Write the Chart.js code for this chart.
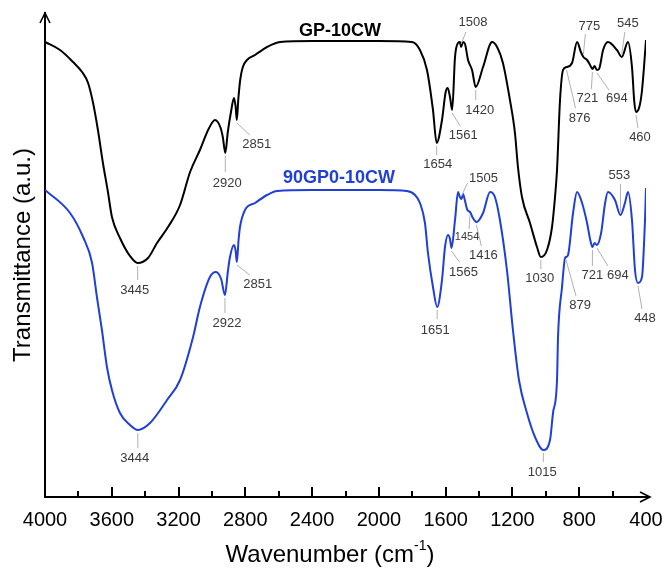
<!DOCTYPE html>
<html>
<head>
<meta charset="utf-8">
<script src="https://cdn.jsdelivr.net/npm/chart.js@4.4.1/dist/chart.umd.min.js"></script>
<style>
  body { margin: 0; background: #fff; }
  canvas { display: block; }
</style>
</head>
<body>
<canvas id="ftir" width="667" height="569"></canvas>
<script>
// GP-10CW spectrum (wavenumber cm-1, transmittance a.u.)
const gpWavenumber = [4000, 3910, 3832, 3778, 3742, 3712, 3683, 3653, 3623, 3599, 3551, 3491, 3445, 3383, 3329, 3263, 3191, 3131, 3072, 3020, 2982,
    2950, 2935, 2920, 2905, 2886, 2868, 2858, 2851, 2842, 2830, 2815, 2790, 2742, 2670, 2592, 2400, 2000, 1802, 1754, 1712,
    1676, 1654, 1622, 1600, 1588, 1574, 1561, 1544, 1526, 1514, 1508, 1496, 1484, 1466, 1442, 1420, 1376, 1322, 1292, 1257,
    1215, 1185, 1167, 1143, 1095, 1053, 1030, 993, 963, 945, 933, 915, 897, 876, 843, 813, 790, 775, 753, 735,
    721, 708, 694, 681, 657, 628, 574, 545, 508, 484, 470, 460, 440, 425, 412, 400];
const gpTransmittance = [455, 447, 435, 425, 414, 394, 367, 334, 305, 280, 259, 241, 234, 239, 254, 270, 292, 325, 347, 368, 377,
    370, 360, 344, 365, 385, 399, 390, 377, 398, 418, 430, 437, 442, 450, 455, 456, 456, 455, 447, 427,
    387, 354, 377, 405, 409, 400, 387, 440, 454, 455, 450, 455, 453, 437, 427, 410, 430, 455, 450, 434,
    397, 364, 330, 300, 274, 250, 240, 247, 270, 300, 327, 397, 427, 430, 434, 455, 445, 440, 437, 432,
    428, 431, 427, 428, 447, 455, 447, 440, 455, 430, 395, 385, 390, 405, 430, 457];

// 90GP0-10CW spectrum
const cwWavenumber = [4000, 3850, 3772, 3718, 3689, 3659, 3629, 3599, 3551, 3491, 3444, 3371, 3269, 3191, 3113, 3072, 3012, 2976, 2945, 2922, 2905,
    2892, 2868, 2858, 2851, 2840, 2832, 2802, 2742, 2670, 2610, 2400, 2000, 1832, 1784, 1754, 1724, 1706, 1676, 1651, 1622,
    1604, 1586, 1574, 1565, 1544, 1526, 1515, 1505, 1496, 1484, 1470, 1454, 1440, 1416, 1376, 1334, 1305, 1275, 1233, 1197,
    1161, 1113, 1065, 1015, 975, 957, 933, 927, 903, 885, 879, 867, 837, 813, 783, 753, 735, 721, 708, 694,
    669, 645, 628, 586, 553, 526, 508, 484, 466, 448, 424, 406, 400];
const cwTransmittance = [307, 284, 260, 234, 200, 167, 130, 107, 84, 72, 67, 74, 97, 117, 160, 190, 220, 225, 218, 202, 225,
    240, 252, 246, 235, 258, 270, 287, 294, 302, 306, 307, 307, 306, 302, 294, 274, 244, 210, 190, 217,
    250, 262, 258, 249, 277, 305, 300, 298, 303, 296, 287, 285, 280, 275, 284, 305, 300, 277, 227, 167,
    117, 84, 60, 47, 57, 84, 117, 160, 210, 239, 240, 242, 284, 305, 294, 274, 258, 250, 254, 252,
    264, 294, 305, 297, 282, 294, 305, 277, 227, 214, 220, 277, 309];

// labelled bands
const gpPeaks = [3445, 2920, 2851, 1654, 1561, 1508, 1420, 1030, 876, 775, 721, 694, 545, 460];
const cwPeaks = [3444, 2922, 2851, 1651, 1565, 1505, 1454, 1416, 1015, 879, 721, 694, 553, 448];

const xTicks = [4000, 3600, 3200, 2800, 2400, 2000, 1600, 1200, 800, 400];

// label offsets from the band point: [text dx, text dy, leader end dx, leader end dy]
const gpLabelPos = [[-3, 27, 0, 17], [2, 30, 0, 19], [20, 24, 13, 15], [1, 21, 0, 12], [11, 25, 8, 16], [12, -25, 5, -15],
    [4, 23, 0, 13], [-1, 21, 0, 12], [13, 51, 9, 41], [6, -31, 2, -23], [-5, 29, -1, 20], [20, 28, 12, 20], [6, -34, 3, -25], [4, 25, 2, 16]];
const cwLabelPos = [[-3, 28, 0, 18], [2, 28, 0, 18], [21, 22, 13, 13], [-2, 23, 0, 12], [12, 24, 8, 14], [22, -21, 6, -16],
    [-3, 25, -1, 17], [7, 33, 5, 24], [-1, 22, 0, 12], [14, 48, 10, 39], [0, 28, 0, 19], [21, 30, 11, 21], [-1, -40, 0, -31], [7, 35, 4, 26]];

function toPoints(xs, ys) {
    return xs.map((x, i) => ({ x: x, y: ys[i] }));
}

const FONT = "'Liberation Sans', Arial, sans-serif";

const decorations = {
    id: 'decorations',
    afterDraw(chart) {
        const ctx = chart.ctx;
        const xs = chart.scales.x;
        const ys = chart.scales.y;
        const area = chart.chartArea;
        ctx.save();

        // tick marks pointing into the plot
        ctx.strokeStyle = '#000';
        ctx.lineWidth = 2;
        for (let w = 3800; w >= 600; w -= 200) {
            const px = Math.round(xs.getPixelForValue(w));
            const len = (w % 400 === 0) ? 10 : 6;
            ctx.beginPath();
            ctx.moveTo(px, area.bottom);
            ctx.lineTo(px, area.bottom - len);
            ctx.stroke();
        }

        // axis arrows
        ctx.lineWidth = 1.6;
        const ax = area.right + 4;
        ctx.beginPath();
        ctx.moveTo(area.right, area.bottom);
        ctx.lineTo(ax, area.bottom);
        ctx.moveTo(ax - 10, area.bottom - 5);
        ctx.lineTo(ax, area.bottom);
        ctx.lineTo(ax - 10, area.bottom + 5);
        ctx.stroke();
        ctx.beginPath();
        ctx.moveTo(area.left - 5, area.top + 10);
        ctx.lineTo(area.left, area.top);
        ctx.lineTo(area.left + 5, area.top + 10);
        ctx.stroke();

        // band labels
        const drawPeaks = (peaks, layout, xsData, ysData) => {
            peaks.forEach((w, i) => {
                const v = ysData[xsData.indexOf(w)];
                const px = xs.getPixelForValue(w);
                const py = ys.getPixelForValue(v);
                const [tdx, tdy, ldx, ldy] = layout[i];
                const sy = tdy > 0 ? 3 : -3;
                ctx.strokeStyle = '#b0b0b0';
                ctx.lineWidth = 1;
                ctx.beginPath();
                ctx.moveTo(px, py + sy);
                ctx.lineTo(px + ldx, py + ldy);
                ctx.stroke();
                ctx.fillStyle = '#3a3a3a';
                ctx.font = (w === 1454 ? '11px ' : '13px ') + FONT;
                ctx.textAlign = 'center';
                ctx.textBaseline = 'middle';
                ctx.fillText(String(w), px + tdx, py + tdy);
            });
        };
        drawPeaks(gpPeaks, gpLabelPos, gpWavenumber, gpTransmittance);
        drawPeaks(cwPeaks, cwLabelPos, cwWavenumber, cwTransmittance);

        // series names
        ctx.textAlign = 'center';
        ctx.textBaseline = 'alphabetic';
        ctx.font = 'bold 18px ' + FONT;
        ctx.fillStyle = '#000';
        ctx.fillText('GP-10CW', 340, 36);
        ctx.fillStyle = '#1f3fd6';
        ctx.fillText('90GP0-10CW', 339, 183);

        // axis titles
        ctx.fillStyle = '#000';
        ctx.font = '24px ' + FONT;
        const main = 'Wavenumber (cm';
        const sup = '-1';
        const tail = ')';
        const wMain = ctx.measureText(main).width;
        const wTail = ctx.measureText(tail).width;
        ctx.font = '14px ' + FONT;
        const wSup = ctx.measureText(sup).width;
        let tx = 330 - (wMain + wSup + wTail) / 2;
        ctx.textAlign = 'left';
        ctx.font = '24px ' + FONT;
        ctx.fillText(main, tx, 562);
        ctx.font = '14px ' + FONT;
        ctx.fillText(sup, tx + wMain, 550);
        ctx.font = '24px ' + FONT;
        ctx.fillText(tail, tx + wMain + wSup, 562);

        ctx.translate(23, 255);
        ctx.rotate(-Math.PI / 2);
        ctx.textAlign = 'center';
        ctx.textBaseline = 'middle';
        ctx.fillText('Transmittance (a.u.)', 0, 0);
        ctx.restore();
    }
};

new Chart(document.getElementById('ftir'), {
    type: 'line',
    data: {
        datasets: [{
            label: 'GP-10CW',
            data: toPoints(gpWavenumber, gpTransmittance),
            borderColor: '#000',
            borderWidth: 2,
            pointRadius: 0,
            cubicInterpolationMode: 'monotone'
        }, {
            label: '90GP0-10CW',
            data: toPoints(cwWavenumber, cwTransmittance),
            borderColor: '#1f3fd6',
            borderWidth: 2,
            pointRadius: 0,
            cubicInterpolationMode: 'monotone'
        }]
    },
    options: {
        responsive: false,
        animation: false,
        layout: { padding: { left: 0, right: 21, top: 13, bottom: 0 } },
        plugins: { legend: { display: false }, tooltip: { enabled: false } },
        scales: {
            x: {
                type: 'linear',
                reverse: true,
                min: 400,
                max: 4000,
                afterFit: (s) => { s.height = 72; },
                afterBuildTicks: (s) => { s.ticks = xTicks.map(v => ({ value: v })); },
                grid: { display: false },
                border: { display: true, color: '#000', width: 2 },
                ticks: {
                    autoSkip: false, maxRotation: 0, padding: 3, color: '#000',
                    font: { size: 20, family: FONT },
                    callback: (v) => String(v)
                }
            },
            y: {
                min: 0,
                max: 484,
                afterFit: (s) => { s.width = 45; },
                grid: { display: false },
                border: { display: true, color: '#000', width: 2 },
                ticks: { display: false }
            }
        }
    },
    plugins: [decorations]
});
</script>
</body>
</html>
